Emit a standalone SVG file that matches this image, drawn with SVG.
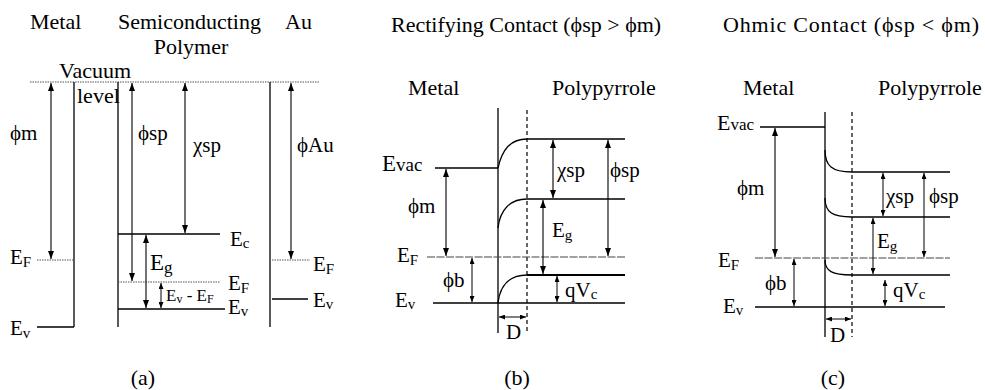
<svg xmlns="http://www.w3.org/2000/svg" width="985" height="390" viewBox="0 0 985 390">
<defs>
<marker id="ah" viewBox="0 0 8 6" refX="8" refY="3" markerWidth="8" markerHeight="6" markerUnits="userSpaceOnUse" orient="auto-start-reverse"><path d="M0,0 L8,3 L0,6 z" fill="#000"/></marker>
<marker id="ahs" viewBox="0 0 6 5" refX="6" refY="2.5" markerWidth="6" markerHeight="5" markerUnits="userSpaceOnUse" orient="auto-start-reverse"><path d="M0,0 L6,2.5 L0,5 z" fill="#000"/></marker>
</defs>
<style>
text{font-family:"Liberation Serif","Times New Roman",serif;font-size:21px;fill:#000}
.t{font-size:22px}
.s{font-size:15px}
.ln{stroke:#000;stroke-width:1.3;fill:none}
.thk{stroke:#000;stroke-width:2;fill:none}
.dot{stroke:#555;stroke-width:1.2;stroke-dasharray:1.5,1;fill:none}
.dsh{stroke:#000;stroke-width:1.2;stroke-dasharray:4,3;fill:none}
.ef{stroke:#444;stroke-width:1.2;stroke-dasharray:8,1.5;fill:none}
.ar{stroke:#000;stroke-width:1.1;fill:none;marker-start:url(#ah);marker-end:url(#ah)}
.ars{stroke:#000;stroke-width:1;fill:none;marker-start:url(#ahs);marker-end:url(#ahs)}
</style>

<g id="panel-a">
<text class="t" x="30" y="29">Metal</text>
<text class="t" x="118" y="29">Semiconducting</text>
<text class="t" x="191" y="54" text-anchor="middle">Polymer</text>
<text class="t" x="285" y="29">Au</text>
<text class="t" x="59" y="78">Vacuum</text>
<text class="t" x="77" y="103">level</text>
<line class="dot" x1="30" y1="82" x2="320" y2="82"/>
<line class="ln" x1="74" y1="82" x2="74" y2="327"/>
<line class="ln" x1="37" y1="327" x2="74" y2="327"/>
<line class="dot" x1="37" y1="260" x2="74" y2="260"/>
<line class="ln" x1="118" y1="82" x2="118" y2="327"/>
<line class="ln" x1="118" y1="234" x2="220" y2="234"/>
<line class="dot" x1="118" y1="282" x2="220" y2="282"/>
<line class="ln" x1="118" y1="309" x2="225" y2="309"/>
<line class="ln" x1="270" y1="82" x2="270" y2="327"/>
<line class="dot" x1="272" y1="260" x2="310" y2="260"/>
<line class="ln" x1="272" y1="299" x2="308" y2="299"/>
<text x="10" y="140">ϕm</text>
<text x="138" y="140">ϕsp</text>
<text x="193" y="152">χsp</text>
<text x="297" y="152">ϕAu</text>
<text x="10" y="264">E<tspan class="s" dy="3">F</tspan></text>
<text x="10" y="335">E<tspan class="s" dy="3">v</tspan></text>
<text x="230" y="246">E<tspan class="s" dy="2">c</tspan></text>
<text x="150" y="270" style="font-size:23px">E<tspan dy="3" style="font-size:17px">g</tspan></text>
<text x="228" y="290">E<tspan class="s" dy="3">F</tspan></text>
<text x="166" y="301" style="font-size:17px">E<tspan dy="2" style="font-size:12px">v</tspan><tspan dy="-2"> - E</tspan><tspan dy="2" style="font-size:12px">F</tspan></text>
<text x="228" y="314">E<tspan class="s" dy="2">v</tspan></text>
<text x="313" y="271">E<tspan class="s" dy="3">F</tspan></text>
<text x="313" y="307">E<tspan class="s" dy="2">v</tspan></text>
<text class="t" x="143" y="385" text-anchor="middle">(a)</text>
</g>

<g id="panel-b">
<text class="t" x="391" y="32">Rectifying Contact  (ϕsp &gt; ϕm)</text>
<text class="t" x="408" y="95">Metal</text>
<text class="t" x="552" y="95">Polypyrrole</text>
<line class="ln" x1="498" y1="108" x2="498" y2="333"/>
<line class="dsh" x1="527" y1="110" x2="527" y2="333"/>
<line class="ln" x1="435" y1="168" x2="498" y2="168"/>
<path class="ln" d="M498,168 C502,150 510,139 527,139 L625,139"/>
<path class="ln" d="M498,228 C500,210 510,199 527,199 L625,199"/>
<line class="ef" x1="427" y1="257" x2="625" y2="257"/>
<line class="ln" x1="433" y1="303" x2="625" y2="303"/>
<path class="ln" d="M498,303 C500,285 510,275 527,275"/>
<line class="thk" x1="527" y1="275" x2="625" y2="275"/>
<text x="382" y="171" style="font-size:23px">E<tspan style="font-size:19px">vac</tspan></text>
<text x="397" y="262">E<tspan class="s" dy="3">F</tspan></text>
<text x="395" y="307">E<tspan class="s" dy="2">v</tspan></text>
<text x="557" y="177">χsp</text>
<text x="610" y="177">ϕsp</text>
<text x="408" y="213">ϕm</text>
<text x="552" y="237">E<tspan class="s" dy="3">g</tspan></text>
<text x="443" y="287">ϕb</text>
<text x="565" y="297">qV<tspan class="s" dy="2">c</tspan></text>
<text x="506" y="339">D</text>
<text class="t" x="517" y="385" text-anchor="middle">(b)</text>
</g>

<g id="panel-c">
<text class="t" x="723" y="32" textLength="256" lengthAdjust="spacing">Ohmic Contact (ϕsp &lt; ϕm)</text>
<text class="t" x="743" y="95">Metal</text>
<text class="t" x="878" y="95">Polypyrrole</text>
<line class="ln" x1="825" y1="112" x2="825" y2="337"/>
<line class="dsh" x1="852" y1="112" x2="852" y2="337"/>
<line class="ln" x1="760" y1="127" x2="825" y2="127"/>
<path class="ln" d="M825,150 C825,166 832,172 852,172 L950,172"/>
<path class="ln" d="M825,198 C825,212 832,217 852,217 L950,217"/>
<line class="ef" x1="755" y1="258" x2="950" y2="258"/>
<path class="ln" d="M825,260 C825,271 832,275 852,275 L950,275"/>
<line class="ln" x1="755" y1="307" x2="945" y2="307"/>
<text x="717" y="130" style="font-size:22px">E<tspan style="font-size:17px">vac</tspan></text>
<text x="718" y="267">E<tspan class="s" dy="3">F</tspan></text>
<text x="723" y="313">E<tspan class="s" dy="2">v</tspan></text>
<text x="737" y="195">ϕm</text>
<text x="886" y="203">χsp</text>
<text x="929" y="203">ϕsp</text>
<text x="877" y="248">E<tspan class="s" dy="3">g</tspan></text>
<text x="765" y="290">ϕb</text>
<text x="893" y="297">qV<tspan class="s" dy="2">c</tspan></text>
<text x="830" y="342">D</text>
<text class="t" x="833" y="385" text-anchor="middle">(c)</text>
</g>

<g id="connectors">
<line class="ar" x1="51" y1="83" x2="51" y2="259"/>
<line class="ar" x1="132" y1="83" x2="132" y2="281"/>
<line class="ar" x1="185" y1="83" x2="185" y2="233"/>
<line class="ar" x1="291" y1="83" x2="291" y2="259"/>
<line class="ar" x1="146" y1="235" x2="146" y2="308"/>
<line class="ars" x1="161" y1="283" x2="161" y2="308"/>
<line class="ar" x1="446" y1="169" x2="446" y2="256"/>
<line class="ar" x1="553" y1="140" x2="553" y2="198"/>
<line class="ar" x1="608" y1="140" x2="608" y2="256"/>
<line class="ar" x1="543" y1="200" x2="543" y2="274"/>
<line class="ars" x1="472" y1="258" x2="472" y2="302"/>
<line class="ars" x1="557" y1="276" x2="557" y2="302"/>
<line class="ars" x1="499" y1="317" x2="526" y2="317"/>
<line class="ar" x1="775" y1="128" x2="775" y2="257"/>
<line class="ars" x1="883" y1="173" x2="883" y2="216"/>
<line class="ars" x1="924" y1="173" x2="924" y2="257"/>
<line class="ars" x1="873" y1="218" x2="873" y2="274"/>
<line class="ars" x1="794" y1="259" x2="794" y2="306"/>
<line class="ars" x1="885" y1="280" x2="885" y2="306"/>
<line class="ars" x1="826" y1="319" x2="851" y2="319"/>
</g>
</svg>
